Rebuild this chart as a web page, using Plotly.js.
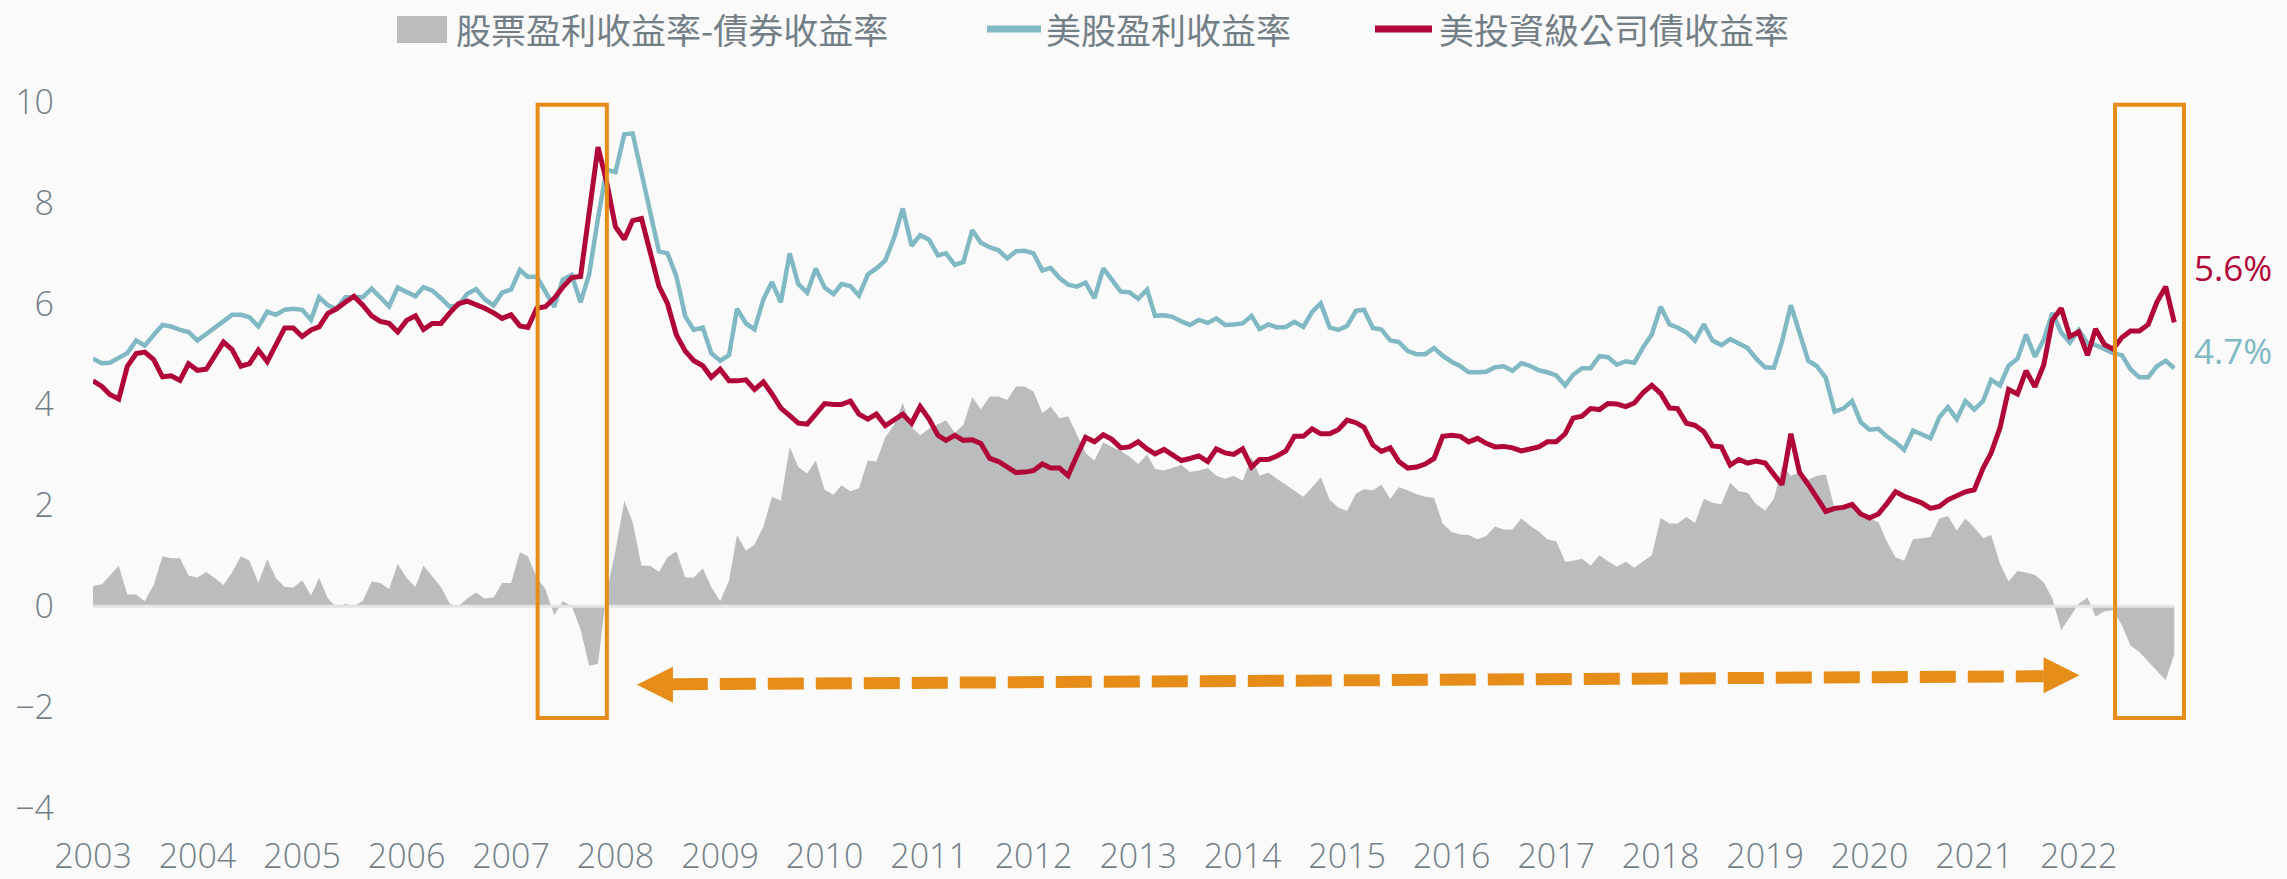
<!DOCTYPE html>
<html>
<head>
<meta charset="utf-8">
<script src="https://cdn.plot.ly/plotly-3.0.1.min.js"></script>
<style>
html,body{margin:0;padding:0;background:#fafafa;}
#chart{width:2287px;height:879px;}
</style>
</head>
<body>
<div id="chart"></div>
<script>
// ---- data (monthly, Jan 2003 - Dec 2022) ----
const startYear = 2003;

const seriesNames = ['股票盈利收益率-債券收益率', '美股盈利收益率', '美投資級公司債收益率'];

const yearLabels = ['2003','2004','2005','2006','2007','2008','2009','2010','2011','2012',
                    '2013','2014','2015','2016','2017','2018','2019','2020','2021','2022'];

const endLabels = ['5.6%', '4.7%'];

// US equity earnings yield (teal)
const earningsYield = [
  4.91,4.82,4.83,4.93,5.02,5.27,5.17,5.38,5.58,5.55,
  5.48,5.44,5.27,5.40,5.53,5.65,5.78,5.78,5.73,5.55,
  5.84,5.78,5.88,5.90,5.88,5.68,6.13,5.97,5.90,6.13,
  6.14,6.13,6.30,6.14,5.95,6.32,6.24,6.15,6.33,6.26,
  6.11,5.94,5.97,6.20,6.29,6.09,5.97,6.22,6.28,6.67,
  6.53,6.54,6.24,5.94,6.48,6.57,6.03,6.58,7.70,8.66,
  8.61,9.36,9.38,8.60,7.88,7.04,7.00,6.54,5.75,5.48,
  5.53,5.02,4.87,4.98,5.90,5.61,5.49,6.09,6.43,6.03,
  7.00,6.39,6.22,6.70,6.32,6.19,6.39,6.35,6.16,6.58,
  6.70,6.86,7.31,7.89,7.15,7.36,7.27,6.96,7.00,6.77,
  6.83,7.46,7.21,7.12,7.06,6.90,7.04,7.05,7.00,6.66,
  6.71,6.51,6.38,6.34,6.42,6.11,6.70,6.49,6.24,6.23,
  6.10,6.28,5.76,5.77,5.74,5.65,5.58,5.68,5.62,5.71,
  5.58,5.59,5.61,5.76,5.50,5.59,5.53,5.54,5.64,5.54,
  5.84,6.01,5.53,5.48,5.56,5.86,5.88,5.52,5.49,5.27,
  5.24,5.06,5.00,5.00,5.12,4.97,4.85,4.76,4.64,4.64,
  4.65,4.74,4.76,4.67,4.82,4.77,4.68,4.64,4.58,4.38,
  4.59,4.72,4.72,4.96,4.94,4.79,4.86,4.83,5.14,5.39,
  5.94,5.59,5.53,5.43,5.27,5.59,5.27,5.18,5.30,5.21,
  5.12,4.91,4.74,4.73,5.25,5.97,5.40,4.87,4.76,4.53,
  3.86,3.92,4.07,3.65,3.50,3.52,3.37,3.25,3.10,3.48,
  3.41,3.33,3.75,3.95,3.71,4.07,3.90,4.07,4.49,4.38,
  4.77,4.91,5.39,4.95,5.29,5.82,5.43,5.23,5.48,5.21,
  5.18,5.10,5.02,4.98,4.70,4.54,4.54,4.76,4.87,4.72
];

// US investment-grade corporate bond yield (red)
const corpBondYield = [
  4.47,4.36,4.20,4.11,4.76,5.01,5.04,4.89,4.55,4.57,
  4.48,4.81,4.68,4.70,4.96,5.24,5.09,4.76,4.81,5.08,
  4.85,5.20,5.52,5.52,5.35,5.48,5.54,5.81,5.90,6.03,
  6.15,5.97,5.76,5.65,5.61,5.44,5.67,5.76,5.49,5.61,
  5.61,5.82,6.00,6.05,5.99,5.91,5.82,5.71,5.78,5.56,
  5.53,5.91,5.94,6.11,6.33,6.52,6.54,7.80,9.11,8.42,
  7.53,7.28,7.65,7.69,7.04,6.35,6.00,5.38,5.06,4.87,
  4.77,4.54,4.70,4.47,4.47,4.49,4.30,4.45,4.21,3.93,
  3.78,3.63,3.61,3.83,4.02,4.00,4.00,4.07,3.81,3.71,
  3.81,3.58,3.69,3.81,3.63,3.96,3.71,3.39,3.29,3.39,
  3.29,3.30,3.23,2.93,2.87,2.76,2.65,2.66,2.69,2.82,
  2.74,2.74,2.59,2.99,3.35,3.26,3.40,3.31,3.14,3.16,
  3.26,3.12,3.02,3.11,3.01,2.89,2.93,2.98,2.87,3.12,
  3.04,3.01,3.12,2.76,2.91,2.91,2.98,3.08,3.37,3.37,
  3.52,3.42,3.42,3.50,3.69,3.64,3.55,3.20,3.07,3.14,
  2.87,2.74,2.76,2.82,2.93,3.37,3.39,3.37,3.26,3.33,
  3.23,3.16,3.17,3.14,3.08,3.13,3.16,3.26,3.26,3.42,
  3.73,3.77,3.92,3.90,4.02,4.01,3.96,4.03,4.24,4.38,
  4.22,3.93,3.92,3.63,3.59,3.46,3.18,3.16,2.80,2.91,
  2.84,2.88,2.84,2.61,2.41,3.42,2.66,2.41,2.17,1.88,
  1.94,1.96,2.02,1.83,1.75,1.83,2.03,2.27,2.18,2.12,
  2.05,1.94,1.98,2.11,2.18,2.27,2.31,2.74,3.04,3.54,
  4.30,4.21,4.67,4.35,4.79,5.67,5.91,5.35,5.44,4.98,
  5.50,5.19,5.10,5.33,5.46,5.46,5.59,6.03,6.34,5.63
];

// Equity earnings yield minus bond yield (grey area)
const yieldGap = [
  0.40,0.43,0.61,0.80,0.23,0.23,0.10,0.42,0.99,0.95,
  0.95,0.61,0.57,0.68,0.56,0.42,0.67,0.99,0.90,0.46,
  0.93,0.56,0.38,0.37,0.51,0.21,0.56,0.15,-0.02,0.05,
  0.00,0.11,0.49,0.46,0.34,0.84,0.56,0.38,0.80,0.59,
  0.38,0.05,0.00,0.15,0.27,0.15,0.17,0.46,0.46,1.07,
  0.99,0.57,0.34,-0.18,0.10,0.00,-0.46,-1.18,-1.14,0.27,
  1.10,2.09,1.67,0.80,0.80,0.68,0.97,1.09,0.57,0.57,
  0.75,0.38,0.10,0.51,1.41,1.10,1.22,1.58,2.17,2.09,
  3.16,2.76,2.63,2.89,2.31,2.21,2.40,2.28,2.34,2.89,
  2.87,3.35,3.60,4.03,3.55,3.39,3.52,3.61,3.69,3.44,
  3.60,4.15,3.90,4.16,4.16,4.09,4.36,4.36,4.26,3.83,
  3.96,3.73,3.77,3.40,3.04,2.89,3.25,3.16,3.08,2.97,
  2.82,3.01,2.72,2.69,2.74,2.80,2.66,2.69,2.74,2.59,
  2.53,2.59,2.49,2.95,2.59,2.65,2.53,2.41,2.28,2.17,
  2.36,2.56,2.11,1.96,1.89,2.23,2.32,2.30,2.41,2.13,
  2.36,2.30,2.22,2.17,2.15,1.64,1.47,1.42,1.41,1.33,
  1.39,1.58,1.52,1.52,1.74,1.60,1.48,1.33,1.29,0.88,
  0.90,0.94,0.80,1.01,0.89,0.78,0.88,0.76,0.89,1.01,
  1.75,1.64,1.64,1.77,1.65,2.13,2.05,2.02,2.45,2.28,
  2.25,2.02,1.90,2.13,2.78,2.59,2.65,2.51,2.59,2.61,
  1.94,1.93,2.02,1.82,1.73,1.67,1.29,0.97,0.90,1.33,
  1.35,1.37,1.74,1.79,1.50,1.74,1.56,1.35,1.41,0.84,
  0.49,0.70,0.67,0.62,0.47,0.15,-0.48,-0.21,0.05,0.17,
  -0.21,-0.10,-0.08,-0.38,-0.78,-0.91,-1.09,-1.28,-1.47,-0.95
];

// ---- build month dates ----
const months = earningsYield.map((_, i) => {
  const y = startYear + Math.floor(i / 12);
  const m = (i % 12) + 1;
  return y + '-' + String(m).padStart(2, '0') + '-01';
});
const tickVals = yearLabels.map(y => y + '-01-01');

// ---- styling ----
const TEAL = '#80b8c3';
const RED = '#b10638';
const GREY = '#bbbcbe';
const ORANGE = '#e68d19';
const TEXT = '#737f87';

const W = 2287, H = 879;
const M = {l: 93, r: 97, t: 87, b: 46};
const PW = W - M.l - M.r, PH = H - M.t - M.b;
const px = x => (x - M.l) / PW;
const py = y => (H - M.b - y) / PH;

const traces = [
  {x: months, y: yieldGap, type: 'scatter', mode: 'lines', name: seriesNames[0],
   fill: 'tozeroy', fillcolor: GREY, line: {width: 0, color: 'rgba(0,0,0,0)'}, showlegend: false},
  {x: months, y: earningsYield, type: 'scatter', mode: 'lines', name: seriesNames[1],
   line: {color: TEAL, width: 4.5}, showlegend: false},
  {x: months, y: corpBondYield, type: 'scatter', mode: 'lines', name: seriesNames[2],
   line: {color: RED, width: 5}, showlegend: false}
];

const shapes = [
  // zero line
  {type: 'line', xref: 'x', yref: 'y', x0: months[0], x1: months[months.length - 1], y0: 0, y1: 0,
   line: {color: '#e3e4e6', width: 3}, layer: 'above'},
  // highlight boxes
  {type: 'rect', xref: 'x', yref: 'y', x0: '2007-04-04', x1: '2007-12-02', y0: -2.22, y1: 9.95,
   line: {color: ORANGE, width: 4}, fillcolor: 'rgba(0,0,0,0)', layer: 'above'},
  {type: 'rect', xref: 'x', yref: 'y', x0: '2022-05-08', x1: '2023-01-04', y0: -2.22, y1: 9.95,
   line: {color: ORANGE, width: 4}, fillcolor: 'rgba(0,0,0,0)', layer: 'above'},
  // dashed double arrow
  {type: 'line', xref: 'x', yref: 'y', x0: '2008-07-16', y0: -1.55, x1: '2021-09-01', y1: -1.39,
   line: {color: ORANGE, width: 12, dash: '36px,12px'}, layer: 'above'},
  {type: 'path', xref: 'x', yref: 'y', xsizemode: 'pixel', ysizemode: 'pixel',
   xanchor: '2008-03-16', yanchor: -1.56, path: 'M0,0 L36,18 L36,-18 Z',
   fillcolor: ORANGE, line: {width: 0}, layer: 'above'},
  {type: 'path', xref: 'x', yref: 'y', xsizemode: 'pixel', ysizemode: 'pixel',
   xanchor: '2022-01-04', yanchor: -1.37, path: 'M0,0 L-36,18 L-36,-18 Z',
   fillcolor: ORANGE, line: {width: 0}, layer: 'above'},
  // legend symbols
  {type: 'rect', xref: 'paper', yref: 'paper', x0: px(397), x1: px(447), y0: py(43), y1: py(16),
   fillcolor: GREY, line: {width: 0}},
  {type: 'line', xref: 'paper', yref: 'paper', x0: px(987), x1: px(1041), y0: py(29), y1: py(29),
   line: {color: TEAL, width: 7}},
  {type: 'line', xref: 'paper', yref: 'paper', x0: px(1375), x1: px(1432), y0: py(29), y1: py(29),
   line: {color: RED, width: 7}}
];

const legendFont = {family: '"Noto Sans CJK TC", "Noto Sans", sans-serif', size: 35, color: TEXT};
const annotations = [
  {xref: 'paper', yref: 'paper', x: px(454), y: py(29), xanchor: 'left', yanchor: 'middle',
   text: seriesNames[0], showarrow: false, font: legendFont},
  {xref: 'paper', yref: 'paper', x: px(1044), y: py(29), xanchor: 'left', yanchor: 'middle',
   text: seriesNames[1], showarrow: false, font: legendFont},
  {xref: 'paper', yref: 'paper', x: px(1437), y: py(29), xanchor: 'left', yanchor: 'middle',
   text: seriesNames[2], showarrow: false, font: legendFont},
  {xref: 'paper', yref: 'y', x: 1, xanchor: 'left', xshift: 2, y: corpBondYield[corpBondYield.length - 1] + 1.08,
   yanchor: 'middle', text: endLabels[0], showarrow: false,
   font: {family: '"Open Sans", sans-serif', size: 35, color: RED}},
  {xref: 'paper', yref: 'y', x: 1, xanchor: 'left', xshift: 2, y: earningsYield[earningsYield.length - 1] + 0.36,
   yanchor: 'middle', text: endLabels[1], showarrow: false,
   font: {family: '"Open Sans", sans-serif', size: 35, color: TEAL}}
];

const tickFont = {family: '"Open Sans", sans-serif', size: 34, color: TEXT, weight: 300};

const layout = {
  width: W, height: H,
  margin: M,
  paper_bgcolor: '#fafafa',
  plot_bgcolor: '#fafafa',
  showlegend: false,
  xaxis: {
    type: 'date',
    range: ['2003-01-01', '2023-01-25'],
    tickvals: tickVals, ticktext: yearLabels,
    showgrid: false, zeroline: false, showline: false, ticks: '',
    tickfont: tickFont, fixedrange: true
  },
  yaxis: {
    range: [-4.5, 10.3],
    tick0: 0, dtick: 2,
    showgrid: false, zeroline: false, showline: false, ticks: '',
    ticklabelstandoff: 38,
    tickfont: tickFont, fixedrange: true
  },
  shapes: shapes,
  annotations: annotations
};

Plotly.newPlot('chart', traces, layout, {displayModeBar: false, staticPlot: true});
</script>
</body>
</html>
